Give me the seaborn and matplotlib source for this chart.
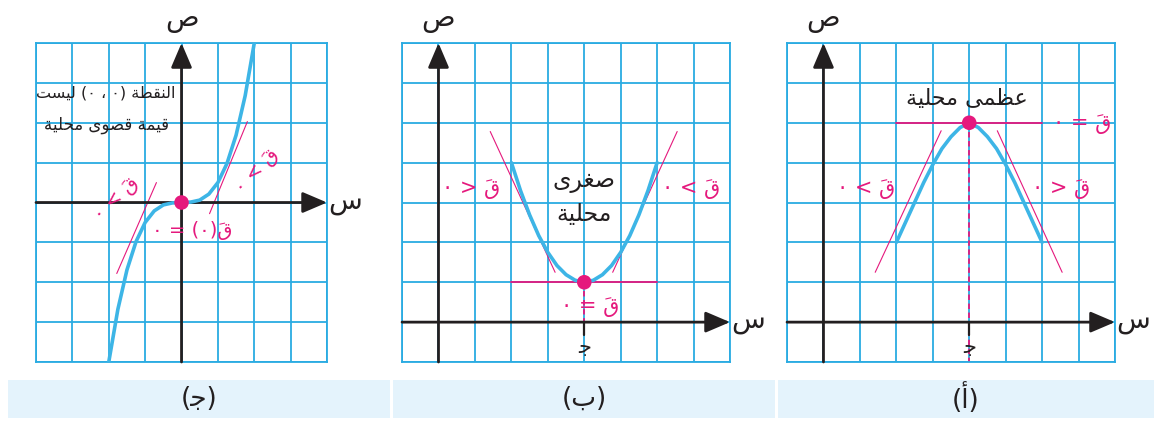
import numpy as np
import pandas as pd
import matplotlib.pyplot as plt
import seaborn as sns

sns.set_style("white")
plt.rcParams['font.family'] = ['DejaVu Sans']

GRID = "#2aabe2"
CURVE = "#3db5e6"
PINK = "#e5197d"
INK = "#231f20"
BOX = "#e4f3fc"

# Arabic strings are written in visual order (presentation forms), since matplotlib does no shaping
Y_LABEL = "\uFEB9"            # ص
X_LABEL = "\uFEB1"            # س
C_LABEL = "\uFE9F"            # جـ
Q = "\u064E\uFED5"            # قَ (mark first so it lands over the letter)
ZERO = "\u0660"
Q_POS = ZERO + " < " + Q      # قَ > ٠
Q_NEG = ZERO + " > " + Q      # قَ < ٠
Q_EQ = ZERO + " = " + Q       # قَ = ٠
Q0_EQ = ZERO + " = (" + ZERO + ")" + Q   # قَ(٠) = ٠
MAHALLIYA = "\uFE94\uFEF4\uFEE0\uFEA4\uFEE3"
NOTE_1 = "\uFE96\uFEB4\uFEF4\uFEDF (" + ZERO + " \u060C " + ZERO + ") \uFE94\uFEC4\uFED8\uFEE8\uFEDF\uFE8D"
NOTE_2 = MAHALLIYA + " \uFEEF\uFEEE\uFEBC\uFED7 \uFE94\uFEE4\uFEF4\uFED7"
MIN_1 = "\uFEEF\uFEAE\uFED0\uFEBB"
MAX_TXT = MAHALLIYA + " \uFEF0\uFEE4\uFEC8\uFECB"
CAPTIONS = ["(\uFE9F)", "(\uFE8F)", "(\uFE83)"]

# panel (جـ): cubic through the origin
cubic_x = [-2, -1.75, -1.5, -1.25, -1, -0.75, -0.5, -0.25, 0, 0.25, 0.5, 0.75, 1, 1.25, 1.5, 1.75, 2]
cubic_y = [-4, -2.68, -1.69, -0.98, -0.5, -0.21, -0.06, -0.01, 0, 0.01, 0.06, 0.21, 0.5, 0.98, 1.69, 2.68, 4]
cubic_tan_x = [[-1.78, -0.69], [0.77, 1.81]]
cubic_tan_y = [[-1.78, 0.5], [-0.28, 2.03]]
cubic_pt = (0, 0)

# panel (ب): local minimum
min_x = [2, 2.25, 2.5, 2.75, 3, 3.25, 3.5, 3.75, 4, 4.25, 4.5, 4.75, 5, 5.25, 5.5, 5.75, 6]
min_y = [4, 3.3, 2.69, 2.17, 1.75, 1.42, 1.19, 1.05, 1, 1.05, 1.19, 1.42, 1.75, 2.17, 2.69, 3.3, 4]
min_tan_x = [[1.42, 3.2], [4.78, 6.55], [2, 6]]
min_tan_y = [[4.78, 1.25], [1.25, 4.78], [1, 1]]
min_pt = (4, 1)

# panel (أ): local maximum
max_x = [2, 2.25, 2.5, 2.75, 3, 3.25, 3.5, 3.75, 4, 4.25, 4.5, 4.75, 5, 5.25, 5.5, 5.75, 6]
max_y = [2, 2.5, 3.0, 3.5, 3.95, 4.35, 4.65, 4.88, 5, 4.88, 4.65, 4.35, 3.95, 3.5, 3.0, 2.5, 2]
max_tan_x = [[1.42, 3.23], [4.77, 6.55], [2, 6]]
max_tan_y = [[1.25, 4.8], [4.8, 1.25], [5, 5]]
max_pt = (4, 5)

fig = plt.figure(figsize=(11.54, 4.28), dpi=100)


def panel(rect, xlim, ylim):
    ax = fig.add_axes(rect)
    ax.set_xlim(xlim)
    ax.set_ylim(ylim)
    ax.set_xticks(np.arange(xlim[0], xlim[1] + 1))
    ax.set_yticks(np.arange(ylim[0], ylim[1] + 1))
    ax.tick_params(length=0, labelbottom=False, labelleft=False)
    ax.grid(True, color=GRID, lw=1.3)
    ax.set_axisbelow(True)
    for s in ax.spines.values():
        s.set_color(GRID)
        s.set_linewidth(1.3)
    arrow = dict(arrowstyle="-|>,head_length=0.75,head_width=0.32", color=INK, lw=2,
                 shrinkA=0, shrinkB=0, mutation_scale=20)
    ax.annotate("", xy=(xlim[1], 0), xytext=(xlim[0], 0), arrowprops=arrow, annotation_clip=False)
    ax.annotate("", xy=(0, ylim[1]), xytext=(0, ylim[0]), arrowprops=arrow, annotation_clip=False)
    ax.text(xlim[1] + 0.5, 0.05, X_LABEL, fontsize=20, color=INK, ha="center", va="center")
    ax.text(0, ylim[1] + 0.6, Y_LABEL, fontsize=20, color=INK, ha="center", va="center")
    return ax


def draw(ax, cx, cy, tx, ty, pt):
    tans = pd.DataFrame({"x": sum(tx, []), "y": sum(ty, []),
                         "seg": sum([[i] * len(s) for i, s in enumerate(tx)], [])})
    for i, (sx, sy) in enumerate(zip(tx, ty)):
        lw = 1.3 if sy[0] == sy[1] else 0.8
        sns.lineplot(data=tans[tans.seg == i], x="x", y="y", color=PINK, lw=lw,
                     sort=False, estimator=None, ax=ax)
    sns.lineplot(x=cx, y=cy, color=CURVE, lw=2.6, sort=False, estimator=None, ax=ax, zorder=3)
    sns.scatterplot(x=[pt[0]], y=[pt[1]], color=PINK, s=110, edgecolor="none", ax=ax, zorder=5)
    ax.set_xlabel("")
    ax.set_ylabel("")


# (جـ)
ax1 = panel([0.0312, 0.1542, 0.2522, 0.7453], (-4, 4), (-4, 4))
draw(ax1, cubic_x, cubic_y, cubic_tan_x, cubic_tan_y, cubic_pt)
ax1.text(-2.08, 2.75, NOTE_1, fontsize=11.5, color=INK, ha="center", va="center")
ax1.text(-2.05, 1.95, NOTE_2, fontsize=12, color=INK, ha="center", va="center")
ax1.text(0.3, -0.7, Q0_EQ, fontsize=14, color=PINK, ha="center", va="center")
ax1.text(2.05, 0.8, Q_POS, fontsize=14, color=PINK, ha="center", va="center", rotation=45)
ax1.text(-1.8, 0.1, Q_POS, fontsize=14, color=PINK, ha="center", va="center", rotation=42)

# (ب)
ax2 = panel([0.3484, 0.1542, 0.2842, 0.7453], (-1, 8), (-1, 7))
draw(ax2, min_x, min_y, min_tan_x, min_tan_y, min_pt)
ax2.plot([min_pt[0], min_pt[0]], [min_pt[1], 0], color=PINK, lw=1.3, ls=(0, (3, 2)))
ax2.plot([min_pt[0], min_pt[0]], [0, -0.33], color=INK, lw=1.6)
ax2.text(min_pt[0], -0.62, C_LABEL, fontsize=15, color=INK, ha="center", va="center")
ax2.text(4.0, 3.55, MIN_1, fontsize=17, color=INK, ha="center", va="center")
ax2.text(4.0, 2.72, MAHALLIYA, fontsize=17, color=INK, ha="center", va="center")
ax2.text(0.9, 3.35, Q_NEG, fontsize=15, color=PINK, ha="center", va="center")
ax2.text(6.93, 3.35, Q_POS, fontsize=15, color=PINK, ha="center", va="center")
ax2.text(4.15, 0.38, Q_EQ, fontsize=15, color=PINK, ha="center", va="center")

# (أ)
ax3 = panel([0.682, 0.1542, 0.2842, 0.7453], (-1, 8), (-1, 7))
draw(ax3, max_x, max_y, max_tan_x, max_tan_y, max_pt)
ax3.plot([max_pt[0], max_pt[0]], [max_pt[1], -1], color=PINK, lw=1.3, ls=(0, (3, 2)))
ax3.plot([max_pt[0], max_pt[0]], [0, -0.33], color=INK, lw=1.6)
ax3.text(max_pt[0], -0.62, C_LABEL, fontsize=15, color=INK, ha="center", va="center")
ax3.text(3.93, 5.6, MAX_TXT, fontsize=16, color=INK, ha="center", va="center")
ax3.text(7.1, 4.97, Q_EQ, fontsize=15, color=PINK, ha="center", va="center")
ax3.text(1.18, 3.35, Q_POS, fontsize=15, color=PINK, ha="center", va="center")
ax3.text(6.52, 3.35, Q_NEG, fontsize=15, color=PINK, ha="center", va="center")

# caption strips
for rect, cap in zip([[0.0069, 0.0234, 0.331, 0.0888],
                      [0.3406, 0.0234, 0.331, 0.0888],
                      [0.6742, 0.0234, 0.3258, 0.0888]], CAPTIONS):
    cax = fig.add_axes(rect)
    cax.set_facecolor(BOX)
    cax.set_xticks([])
    cax.set_yticks([])
    for s in cax.spines.values():
        s.set_visible(False)
    cax.text(0.5, 0.5, cap, fontsize=19, color=INK, ha="center", va="center",
             transform=cax.transAxes)

fig.savefig("out.png", dpi=100)
